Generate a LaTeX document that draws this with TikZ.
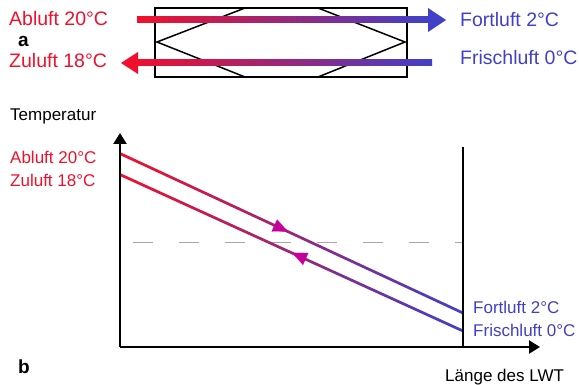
\documentclass[tikz,border=0pt]{standalone}
\usepackage{fontspec}
\setmainfont{Liberation Sans}
\usepackage{xcolor}
\usepackage{tikz}
\usetikzlibrary{positioning, arrows.meta}
\definecolor{lwtred}{HTML}{F0102C}
\definecolor{lwtblue}{HTML}{4040C8}
\definecolor{lwtmag}{HTML}{C8009B}
\definecolor{lwtgray}{HTML}{A8A8A8}

\begin{document}
\begin{tikzpicture}[
  x=1pt, y=-1pt,
  lbl/.style={anchor=base west, inner sep=0pt, font=\fontsize{19.5}{21}\selectfont},
  lblsmall/.style={anchor=base west, inner sep=0pt, font=\fontsize{17}{19}\selectfont},
  tag/.style={anchor=base west, inner sep=0pt, font=\fontsize{19}{21}\selectfont\bfseries},
  warm/.style={text=lwtred},
  cold/.style={text=lwtblue},
  grad/.style={left color=lwtred, right color=lwtblue, draw=none},
  axis/.style={line width=2.4pt, -{Triangle[length=11pt,width=13pt]}},
  flow/.style={lwtmag, line width=0.1pt, -{Triangle[length=15pt,width=13pt]}},
]
\useasboundingbox (0,0) rectangle (579,385);

% a) heat exchanger
\draw[line width=2pt] (155,8) rectangle (407,77);
\draw[line width=1.5pt] (245,8) -- (157,42) -- (245,77)
                        (318,8) -- (405,42) -- (318,77);

% exhaust air (left to right)
\shade[grad] (137,17) rectangle (430,23);
\fill[lwtblue] (428,8) -- (446,20) -- (428,32) -- cycle;
% supply air (right to left)
\shade[grad] (135,60) rectangle (432,66);
\fill[lwtred] (138,52) -- (121,63) -- (138,74) -- cycle;

\node[lbl, warm] (abl) at (9,26) {Abluft 20°C};
\node[lbl, warm] (zul) at (9,68) {Zuluft 18°C};
\node[tag] (taga) at (18,47) {a};
\node[lbl, cold] (fort) at (460,27) {Fortluft 2°C};
\node[lbl, cold] (frisch) at (460,65) {Frischluft 0°C};

% b) temperature along the LWT
\coordinate (origin) at (120,347);
\coordinate (ytip) at (120,133);
\coordinate (xtip) at (540,347);
\coordinate (rtop) at (463,147);
\coordinate (rbot) at (463,347);

\draw[lwtgray, line width=1pt, dash pattern=on 20pt off 26pt, dash phase=34pt]
  (121,243) -- (463,243);

\shade[grad] (121,152.5) -- (463,311.5) -- (463,314.5) -- (121,155.5) -- cycle;
\shade[grad] (121,173.5) -- (463,329.5) -- (463,332.5) -- (121,176.5) -- cycle;

\coordinate (fa) at (280,228);
\coordinate (fb) at (288,231.7);
\coordinate (ra) at (300,256.4);
\coordinate (rb) at (292,252.8);
\draw[flow] (fa) -- (fb);
\draw[flow] (ra) -- (rb);

\draw[axis] (origin) -- (ytip);
\draw[axis] (origin) -- (xtip);
\draw[line width=2.4pt] (rbot) -- (rtop);

\node[lblsmall] (temp) at (10,121) {Temperatur};
\node[lblsmall, warm] (abl2) at (10,164) {Abluft 20°C};
\node[lblsmall, warm] (zul2) at (10,187) {Zuluft 18°C};
\node[lblsmall, cold] (fort2) at (473,313) {Fortluft 2°C};
\node[lblsmall, cold] (frisch2) at (473,336) {Frischluft 0°C};
\node[lblsmall] (laenge) at (445,381) {Länge des LWT};
\node[tag] (tagb) at (18,373) {b};

\end{tikzpicture}
\end{document}
